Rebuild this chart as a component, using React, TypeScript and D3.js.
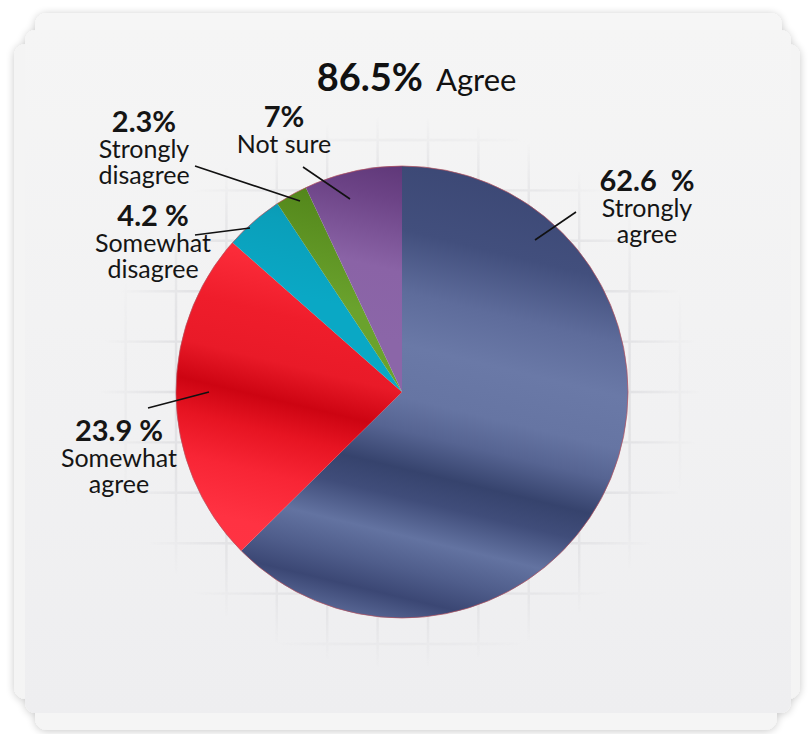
import React, { useEffect } from 'react';
import * as d3 from 'd3';

// ---- data ----
const categories = ['Strongly agree', 'Somewhat agree', 'Somewhat disagree', 'Strongly disagree', 'Not sure'];
const values = [62.6, 23.9, 4.2, 2.3, 7];
const valueLabels = ['62.6\u00a0\u00a0%', '23.9\u00a0%', '4.2\u00a0%', '2.3%', '7%'];
const nameLines = [['Strongly', 'agree'], ['Somewhat', 'agree'], ['Somewhat', 'disagree'], ['Strongly', 'disagree'], ['Not sure']];
const titleValue = '86.5%';
const titleText = 'Agree';

// ---- styling (colour stops along a slightly tilted top-to-bottom gradient) ----
const sliceStops: [number, string][][] = [
  [[0, '#3c4875'], [0.16, '#424f7d'], [0.29, '#5e6c9b'], [0.4, '#6a79a7'], [0.51, '#6675a3'], [0.58, '#566492'], [0.66, '#36436d'], [0.72, '#404d7a'], [0.8, '#6373a1'], [0.87, '#4f5d8b'], [0.93, '#3b4774'], [1, '#5c6b99']],
  [[0, '#ff3442'], [0.29, '#fb2b39'], [0.4, '#ef1d2b'], [0.5, '#e91a28'], [0.58, '#cd0412'], [0.65, '#e71422'], [0.74, '#f82535'], [0.85, '#ff3242'], [1, '#ff3444']],
  [[0, '#07879f'], [0.2, '#0a9fba'], [0.35, '#0aa8c5'], [1, '#0aa8c5']],
  [[0, '#467511'], [0.15, '#568a1d'], [0.35, '#6aa22d'], [1, '#6aa22d']],
  [[0, '#5b3474'], [0.1, '#6c4386'], [0.25, '#8a63a6'], [0.4, '#8b66a8'], [1, '#8b66a8']],
];

const W = 809;
const H = 734;
const cx = 402;
const cy = 392;
const R = 226;

// label layout: x centre, baseline of percentage line, leader line [x1,y1,x2,y2]
const labelLayout = [
  { x: 647, y: 191, leader: [535, 240, 576, 212] },
  { x: 119, y: 441, leader: [148, 408, 209, 392] },
  { x: 153, y: 226, leader: [195, 235, 250, 228] },
  { x: 144, y: 132, leader: [195, 166, 300, 201] },
  { x: 284, y: 127, leader: [303, 167, 350, 199] },
];

const FONT = 'Lato, "Open Sans", sans-serif';

export default function App() {
  useEffect(() => {
    document.body.style.margin = '0';
  }, []);

  const pie = d3.pie<number>().sort(null).value((d) => d);
  const arcs = pie(values);
  const arc = d3.arc<d3.PieArcDatum<number>>().innerRadius(0).outerRadius(R);

  const gridStep = 50.4;
  const vLines = d3.range(-6, 7).map((i) => 428 + i * gridStep);
  const hLines = d3.range(-6, 7).map((i) => 392 + i * gridStep);

  const tilt = 0.24;
  const gx1 = tilt * R;
  const gy1 = -R;
  const gx2 = -tilt * R;
  const gy2 = R;

  return (
    <svg width={W} height={H} style={{ display: 'block', position: 'absolute', left: 0, top: 0 }} fontFamily={FONT}>
      <defs>
        <filter id="shadow" x="-10%" y="-10%" width="120%" height="120%">
          <feGaussianBlur in="SourceAlpha" stdDeviation="4" />
          <feOffset dx="0" dy="1" result="b" />
          <feComponentTransfer>
            <feFuncA type="linear" slope="0.22" />
          </feComponentTransfer>
          <feMerge>
            <feMergeNode />
            <feMergeNode in="SourceGraphic" />
          </feMerge>
        </filter>
        <linearGradient id="cardGrad" x1="0" y1="0" x2="0" y2="1">
          <stop offset="0" stopColor="#f5f5f5" />
          <stop offset="1" stopColor="#eeeef0" />
        </linearGradient>
        <radialGradient id="gridFade" cx={400} cy={392} r={300} gradientUnits="userSpaceOnUse" gradientTransform="translate(400 392) scale(1 0.92) translate(-400 -392)">
          <stop offset="0" stopColor="#fff" stopOpacity="1" />
          <stop offset="0.68" stopColor="#fff" stopOpacity="1" />
          <stop offset="0.86" stopColor="#fff" stopOpacity="0.45" />
          <stop offset="1" stopColor="#fff" stopOpacity="0" />
        </radialGradient>
        <mask id="gridMask" maskUnits="userSpaceOnUse" x="0" y="0" width={W} height={H}>
          <rect x="0" y="0" width={W} height={H} fill="url(#gridFade)" />
        </mask>
        {sliceStops.map((stops, i) => (
          <linearGradient key={i} id={`sg${i}`} gradientUnits="userSpaceOnUse" x1={gx1} y1={gy1} x2={gx2} y2={gy2}>
            {stops.map(([o, c], j) => (
              <stop key={j} offset={o} stopColor={c} />
            ))}
          </linearGradient>
        ))}
      </defs>

      <rect x={0} y={0} width={W} height={H} fill="#ffffff" />

      {/* stacked paper cards */}
      <g filter="url(#shadow)">
        <rect x={35} y={13} width={747} height={700} rx={12} fill="#f6f6f6" />
        <rect x={14} y={44} width={786} height={655} rx={12} fill="#f4f4f4" />
        <rect x={35} y={40} width={742} height={690} rx={12} fill="#f5f5f5" />
        <rect x={25} y={30} width={766} height={683} rx={11} fill="url(#cardGrad)" />
      </g>

      {/* faint grid */}
      <g mask="url(#gridMask)" stroke="#dcdcdf" strokeWidth={2.4}>
        {vLines.map((x, i) => (
          <line key={'v' + i} x1={x} x2={x} y1={90} y2={690} />
        ))}
        {hLines.map((y, i) => (
          <line key={'h' + i} x1={60} x2={740} y1={y} y2={y} />
        ))}
      </g>

      {/* pie */}
      <g transform={`translate(${cx},${cy})`}>
        {arcs.map((a, i) => (
          <path key={categories[i]} d={arc(a) || ''} fill={`url(#sg${i})`} />
        ))}
        <circle r={R} fill="none" stroke="#b5505c" strokeOpacity={0.7} strokeWidth={1} />
      </g>

      {/* leader lines */}
      {labelLayout.map((l, i) => (
        <line key={'l' + i} x1={l.leader[0]} y1={l.leader[1]} x2={l.leader[2]} y2={l.leader[3]} stroke="#111" strokeWidth={1.6} />
      ))}

      {/* labels */}
      {labelLayout.map((l, i) => (
        <g key={'t' + i} fill="#151515" textAnchor="middle">
          <text x={l.x} y={l.y} fontWeight={700} fontSize={29}>
            {valueLabels[i]}
          </text>
          {nameLines[i].map((s, j) => (
            <text key={j} x={l.x} y={l.y + 26 * (j + 1)} fontSize={25}>
              {s}
            </text>
          ))}
        </g>
      ))}

      {/* title */}
      <text x={423} y={91} textAnchor="end" fill="#111" fontWeight={700} fontSize={38}>
        {titleValue}
      </text>
      <text x={436} y={91} textAnchor="start" fill="#111" fontSize={31}>
        {titleText}
      </text>
    </svg>
  );
}
